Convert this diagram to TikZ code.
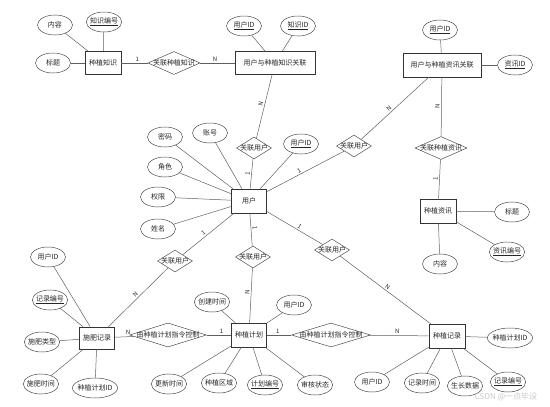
\documentclass[tikz,border=0pt]{standalone}
\usepackage{fontspec}
\setmainfont{Noto Sans CJK SC}
\usetikzlibrary{shapes.geometric, positioning}
\definecolor{cLine}{RGB}{95,95,95}
\definecolor{cMark}{RGB}{200,200,200}
\newcommand{\pk}[1]{\underline{#1}}
\tikzset{
	ent/.style ={rectangle, draw=black!80, line width=0.6pt, minimum width=36pt, minimum height=23pt, inner sep=1pt},
	rel/.style ={diamond, aspect=2.5, draw=black!70, line width=0.5pt, minimum width=35pt, minimum height=22pt, inner sep=-2pt},
	attr/.style={ellipse, draw=black!70, line width=0.5pt, minimum width=35pt, minimum height=20pt, inner sep=-1.5pt},
	conn/.style={draw=cLine, line width=0.5pt},
	card/.style={font=\fontsize{6}{6}\selectfont, inner sep=1.5pt},
}
\begin{document}
\begin{tikzpicture}[x=1pt, y=-1pt, every node/.style={font=\fontsize{7}{7}\selectfont, text=black!85}]
	\useasboundingbox (0,0) rectangle (550,407);
	% knowledge side
	\node[ent] (kn) at (103,63) {种植知识};
	\node[attr] (kn1) at (55,25) {内容};
	\node[attr] (kn2) at (104,22) {\pk{知识编号}};
	\node[attr] (kn3) at (53,63) {标题};
	\node[rel, minimum width=52pt, minimum height=23pt] (knr) at (174,63) {关联种植知识};
	\node[ent, minimum width=80pt] (ukn) at (275,63) {用户与种植知识关联};
	\node[attr] (ukn1) at (244,26) {\pk{用户ID}};
	\node[attr] (ukn2) at (298,26) {\pk{知识ID}};
	% news side
	\node[ent, minimum width=78pt, minimum height=24pt] (unw) at (442,65) {用户与种植资讯关联};
	\node[attr] (unw1) at (440,30) {\pk{用户ID}};
	\node[attr] (unw2) at (515,65) {\pk{资讯ID}};
	\node[rel, minimum width=52pt, minimum height=23pt] (nwr) at (441,148) {关联种植资讯};
	\node[ent, minimum height=24pt] (nw) at (438,211) {种植资讯};
	\node[attr] (nw1) at (512,212) {标题};
	\node[attr] (nw2) at (507,252) {\pk{资讯编号}};
	\node[attr] (nw3) at (440,264) {内容};
	% user
	\node[ent, minimum width=35pt, minimum height=24pt] (usr) at (249,201) {用户};
	\node[attr] (usr1) at (165,137) {密码};
	\node[attr] (usr2) at (210,133) {账号};
	\node[attr] (usr3) at (165,167) {角色};
	\node[attr] (usr4) at (158,197) {权限};
	\node[attr] (usr5) at (158,229) {姓名};
	\node[attr] (usr6) at (301,144) {\pk{用户ID}};
	\node[rel] (r1) at (254,148) {关联用户};
	\node[rel] (r2) at (354,146) {关联用户};
	\node[rel] (r3) at (175,261) {关联用户};
	\node[rel] (r4) at (253,257) {关联用户};
	\node[rel] (r5) at (332,250) {关联用户};
	% fertilizer record
	\node[ent, minimum width=35pt, minimum height=22pt] (fr) at (97,338) {施肥记录};
	\node[attr] (fr1) at (48,257) {用户ID};
	\node[attr] (fr2) at (50,300) {\pk{记录编号}};
	\node[attr] (fr3) at (42,342) {施肥类型};
	\node[attr] (fr4) at (41,384) {施肥时间};
	\node[attr, minimum width=44pt] (fr5) at (95,388) {种植计划ID};
	% plan
	\node[rel, aspect=3.2, minimum width=77pt, minimum height=24pt] (ctl1) at (168,335) {由种植计划指令控制};
	\node[ent, minimum width=35pt, minimum height=24pt] (pl) at (249,335) {种植计划};
	\node[attr] (pl1) at (212,302) {创建时间};
	\node[attr] (pl2) at (294,305) {用户ID};
	\node[attr] (pl3) at (169,384) {更新时间};
	\node[attr] (pl4) at (219,383) {种植区域};
	\node[attr] (pl5) at (265,385) {\pk{计划编号}};
	\node[attr] (pl6) at (315,385) {审核状态};
	% planting record
	\node[rel, aspect=3.2, minimum width=79pt, minimum height=24pt] (ctl2) at (331,335) {由种植计划指令控制};
	\node[ent, minimum height=24pt] (rc) at (447,336) {种植记录};
	\node[attr, minimum width=44pt] (rc1) at (510,338) {种植计划ID};
	\node[attr] (rc2) at (372,382) {用户ID};
	\node[attr] (rc3) at (422,383) {记录时间};
	\node[attr] (rc4) at (465,386) {生长数据};
	\node[attr] (rc5) at (508,382) {\pk{记录编号}};
	\node[font=\fontsize{8}{8}\selectfont, text=cMark] (wm) at (506,397) {CSDN @一点毕设};
	% attribute lines
	\foreach \e/\a in {kn/kn1, kn/kn2, kn/kn3, ukn/ukn1, ukn/ukn2, unw/unw1, unw/unw2,
		nw/nw1, nw/nw2, nw/nw3, usr/usr1, usr/usr2, usr/usr3, usr/usr4, usr/usr5, usr/usr6,
		fr/fr1, fr/fr2, fr/fr3, fr/fr4, fr/fr5, pl/pl1, pl/pl2, pl/pl3, pl/pl4, pl/pl5, pl/pl6,
		rc/rc1, rc/rc2, rc/rc3, rc/rc4, rc/rc5}
		\draw[conn] (\e) -- (\a);
	% relationship lines
	\draw[conn] (kn) -- node[card, above, pos=.6] {1} (knr);
	\draw[conn] (knr) -- node[card, above, pos=.43] {N} (ukn);
	\draw[conn] (ukn) -- node[card, sloped, above, pos=.48] {N} (r1);
	\draw[conn] (r1) -- node[card, sloped, above, pos=.5] {1} (usr);
	\draw[conn] (unw) -- node[card, sloped, above, pos=.55] {N} (r2);
	\draw[conn] (r2) -- node[card, sloped, above, pos=.56] {1} (usr);
	\draw[conn] (unw) -- node[card, sloped, above, pos=.5] {N} (nwr);
	\draw[conn] (nwr) -- node[card, sloped, above, pos=.5] {1} (nw);
	\draw[conn] (usr) -- node[card, sloped, above, pos=.55] {1} (r3);
	\draw[conn] (r3) -- node[card, sloped, above, pos=.5] {N} (fr);
	\draw[conn] (usr) -- node[card, sloped, above, pos=.45] {1} (r4);
	\draw[conn] (r4) -- node[card, sloped, above, pos=.45] {N} (pl);
	\draw[conn] (usr) -- node[card, sloped, above, pos=.55] {1} (r5);
	\draw[conn] (r5) -- node[card, sloped, above, pos=.5] {N} (rc);
	\draw[conn] (fr) -- node[card, above, pos=.7] {N} (ctl1);
	\draw[conn] (ctl1) -- node[card, above, pos=.6] {1} (pl);
	\draw[conn] (pl) -- node[card, above, pos=.45] {1} (ctl2);
	\draw[conn] (ctl2) -- node[card, above, pos=.47] {N} (rc);
\end{tikzpicture}
\end{document}
